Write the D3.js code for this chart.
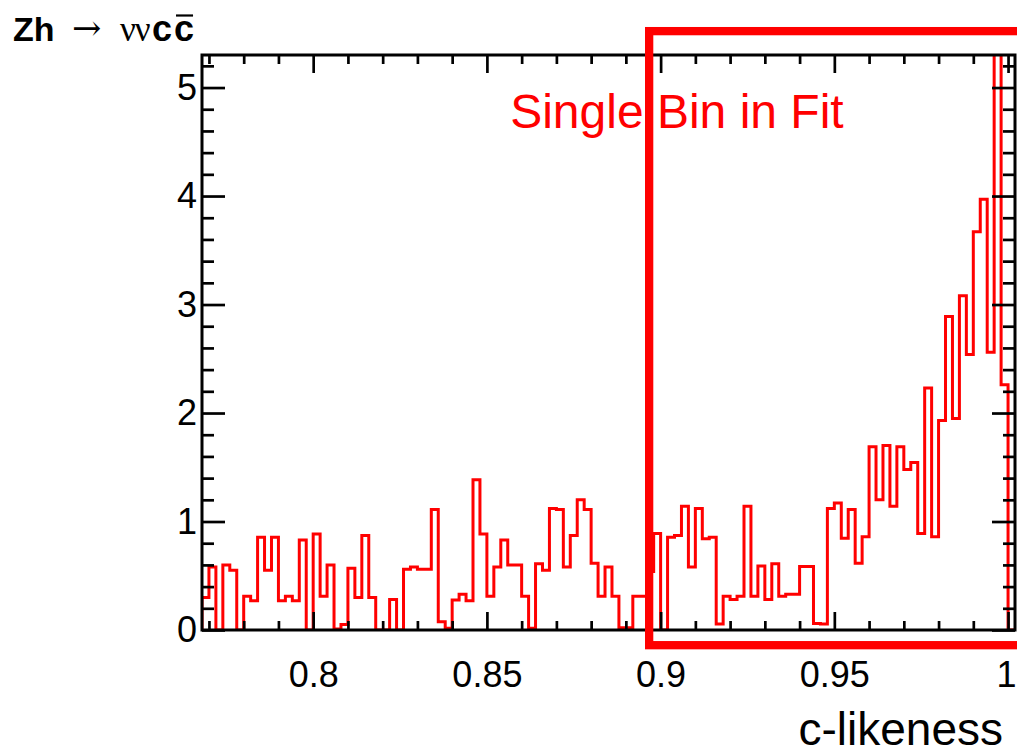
<!DOCTYPE html>
<html><head><meta charset="utf-8">
<script src="https://cdn.jsdelivr.net/npm/d3@7"></script>
<style>body{margin:0;background:#fff}</style>
</head><body><svg id="c" width="1017" height="754"></svg>
<script>
// ---- data ----
const binStart = 0.768;
const binWidth = 0.002;
const counts = [
  0.30, 0.58, 0.00, 0.60, 0.55, 0.00, 0.31, 0.27, 0.855, 0.55,
  0.855, 0.27, 0.31, 0.27, 0.83, 0.00, 0.886, 0.31, 0.60, 0.01,
  0.05, 0.57, 0.30, 0.87, 0.30, 0.00, 0.00, 0.28, 0.00, 0.56,
  0.58, 0.56, 0.56, 1.11, 0.077, 0.015, 0.277, 0.33, 0.27, 1.385,
  0.886, 0.31, 0.58, 0.83, 0.60, 0.60, 0.31, 0.015, 0.61, 0.55,
  1.12, 1.11, 0.58, 0.87, 1.20, 1.11, 0.615, 0.31, 0.58, 0.31,
  0.02, 0.02, 0.31, 0.31, 0.54, 0.89, 0.00, 0.855, 0.87, 1.14,
  0.58, 1.12, 0.84, 0.855, 0.055, 0.31, 0.28, 0.31, 1.14, 0.31,
  0.59, 0.28, 0.61, 0.31, 0.33, 0.33, 0.585, 0.585, 0.06, 0.055,
  1.12, 1.17, 0.846, 1.11, 0.615, 0.86, 1.69, 1.20, 1.70, 1.14,
  1.69, 1.48, 1.545, 0.89, 2.23, 0.86, 1.93, 2.89, 1.95, 3.08,
  2.54, 3.67, 3.97, 2.56, 6.20, 2.26, 0.00
];
const xDomain = [0.768, 1.002];
const yDomain = [0, 5.3];
const xMajorTicks = [0.8, 0.85, 0.9, 0.95, 1.0];
const xTickLabels = ["0.8", "0.85", "0.9", "0.95", "1"];
const xMinorTicks = [0.77,0.78,0.79,0.81,0.82,0.83,0.84,0.86,0.87,0.88,0.89,0.91,0.92,0.93,0.94,0.96,0.97,0.98,0.99];
const yMajorTicks = [0, 1, 2, 3, 4, 5];
const yTickLabels = ["0", "1", "2", "3", "4", "5"];
const yMinorTicks = [0.2,0.4,0.6,0.8,1.2,1.4,1.6,1.8,2.2,2.4,2.6,2.8,3.2,3.4,3.6,3.8,4.2,4.4,4.6,4.8,5.2];
const fitBoxX = [0.8967, 1.03];
const fitBoxY = [-0.14, 5.52];
const fitLabel = "Single Bin in Fit";
const fitLabelPos = [0.8567, 4.63];
const xTitle = "c-likeness";

// ---- layout ----
const L = 202, R = 1015, T = 55, B = 630;
const svg = d3.select("#c");
const x = d3.scaleLinear().domain(xDomain).range([L, R]);
const y = d3.scaleLinear().domain(yDomain).range([B, T]);
const SANS = "'Liberation Sans', Arial, Helvetica, sans-serif";
const RED = "#ff0000";

svg.append("defs").append("clipPath").attr("id", "frameClip")
  .append("rect").attr("x", L).attr("y", T).attr("width", R - L).attr("height", B - T);

// histogram outline
const pts = [[x(binStart), y(0)]];
counts.forEach((v, i) => {
  const lo = binStart + i * binWidth, hi = lo + binWidth;
  pts.push([x(lo), y(v)], [x(hi), y(v)]);
});
pts.push([x(binStart + counts.length * binWidth), y(0)]);
svg.append("path")
  .attr("clip-path", "url(#frameClip)")
  .attr("d", d3.line()(pts))
  .attr("fill", "none").attr("stroke", RED).attr("stroke-width", 3)
  .attr("stroke-linejoin", "miter");

// axes (ticks inward)
function styleAxis(g) {
  g.select(".domain").remove();
  g.selectAll(".tick line").attr("stroke", "#000").attr("stroke-width", 2.7);
  g.selectAll(".tick text").attr("fill", "#000").attr("font-family", SANS).attr("font-size", 36);
}
svg.append("g").attr("transform", `translate(0,${B})`)
  .call(d3.axisBottom(x).tickValues(xMinorTicks).tickSize(-9).tickFormat(""))
  .call(styleAxis);
const xAxisG = svg.append("g").attr("transform", `translate(0,${B})`)
  .call(d3.axisBottom(x).tickValues(xMajorTicks).tickSize(-18).tickPadding(31)
    .tickFormat((d, i) => xTickLabels[i]))
  .call(styleAxis);
// keep the last label inside the page (its ink stays on the tick)
xAxisG.selectAll(".tick text").filter((d, i) => i === xMajorTicks.length - 1)
  .attr("text-anchor", "end").attr("x", 8);
svg.append("g").attr("transform", `translate(0,${T})`)
  .call(d3.axisTop(x).tickValues(xMinorTicks).tickSize(-9).tickFormat(""))
  .call(styleAxis);
svg.append("g").attr("transform", `translate(0,${T})`)
  .call(d3.axisTop(x).tickValues(xMajorTicks).tickSize(-18).tickFormat(""))
  .call(styleAxis);
svg.append("g").attr("transform", `translate(${L},0)`)
  .call(d3.axisLeft(y).tickValues(yMinorTicks).tickSize(-12).tickFormat(""))
  .call(styleAxis);
svg.append("g").attr("transform", `translate(${L},0)`)
  .call(d3.axisLeft(y).tickValues(yMajorTicks).tickSize(-23).tickPadding(5)
    .tickFormat((d, i) => yTickLabels[i]))
  .call(styleAxis);
svg.append("g").attr("transform", `translate(${R},0)`)
  .call(d3.axisRight(y).tickValues(yMinorTicks).tickSize(-12).tickFormat(""))
  .call(styleAxis);
svg.append("g").attr("transform", `translate(${R},0)`)
  .call(d3.axisRight(y).tickValues(yMajorTicks).tickSize(-23).tickFormat(""))
  .call(styleAxis);

// frame
svg.append("rect").attr("x", L).attr("y", T).attr("width", R - L).attr("height", B - T)
  .attr("fill", "none").attr("stroke", "#000").attr("stroke-width", 3);

// fit region box
svg.append("rect")
  .attr("x", x(fitBoxX[0])).attr("y", y(fitBoxY[1]))
  .attr("width", x(fitBoxX[1]) - x(fitBoxX[0]))
  .attr("height", y(fitBoxY[0]) - y(fitBoxY[1]))
  .attr("fill", "none").attr("stroke", RED).attr("stroke-width", 8.3);

svg.append("text").attr("x", x(fitLabelPos[0])).attr("y", y(fitLabelPos[1]))
  .attr("font-family", SANS).attr("font-size", 48).attr("fill", RED).text(fitLabel);

// axis title
svg.append("text").attr("x", 1003).attr("y", 745).attr("text-anchor", "end")
  .attr("font-family", SANS).attr("font-size", 46).attr("fill", "#000").text(xTitle);

// process title: Zh -> nu nu c cbar
const t = svg.append("text").attr("y", 41).attr("fill", "#000");
t.append("tspan").attr("x", 13).attr("font-family", SANS).attr("font-weight", "bold")
  .attr("font-size", 34).text("Zh");
t.append("tspan").attr("x", 72).attr("font-family", "'DejaVu Serif', serif")
  .attr("font-size", 35).attr("dy", -1).text("\u2192");
t.append("tspan").attr("x", 120).attr("font-family", "'Liberation Serif', 'Times New Roman', serif")
  .attr("font-size", 35).attr("letter-spacing", -1).attr("dy", 1).text("\u03bd\u03bd");
t.append("tspan").attr("x", 152).attr("font-family", SANS).attr("font-weight", "bold")
  .attr("font-size", 36).attr("letter-spacing", 2).text("cc");
const tn = t.node();
const nChars = tn.getNumberOfChars();
const ext = tn.getExtentOfChar(nChars - 1);
svg.append("line").attr("x1", ext.x + 2).attr("x2", ext.x + ext.width - 3)
  .attr("y1", 15.5).attr("y2", 15.5).attr("stroke", "#000").attr("stroke-width", 2.2);
</script></body></html>
